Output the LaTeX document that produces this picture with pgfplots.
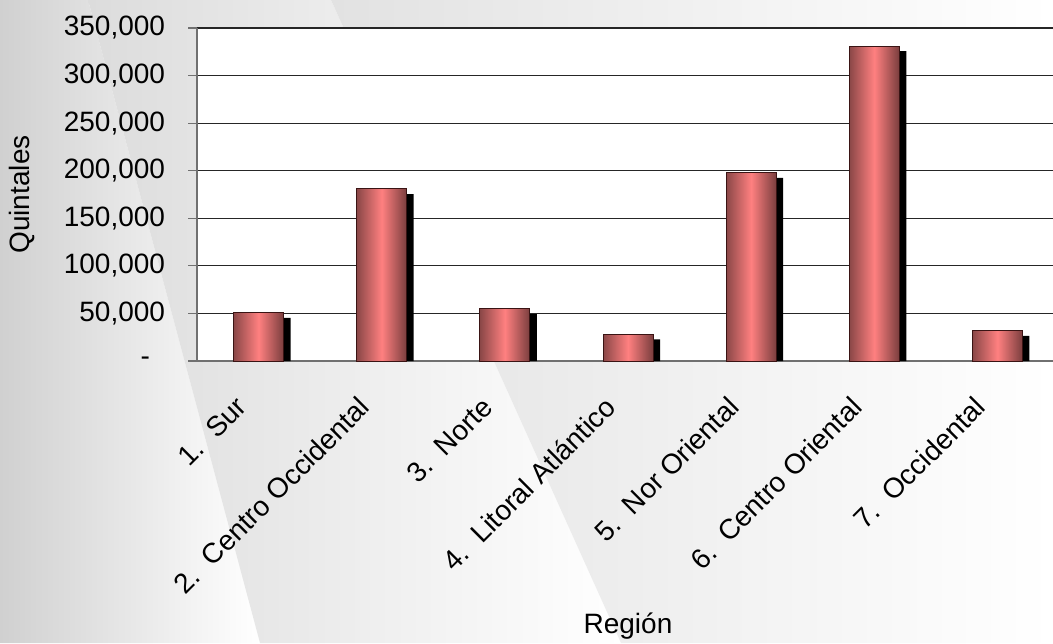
\documentclass[border=0pt]{standalone}
\usepackage{fontspec}
\setmainfont{Liberation Sans}
\usepackage{pgfplots}
\pgfplotsset{compat=1.18}
\definecolor{barL}{HTML}{8A4747}
\definecolor{barM}{HTML}{FF8080}
\definecolor{barR}{HTML}{7A3E3E}
\definecolor{barEdge}{HTML}{3A1414}
\definecolor{bgA}{HTML}{D0D0D0}
\definecolor{bgB}{HTML}{DCDCDC}
\definecolor{bgC}{HTML}{E2E2E2}
\definecolor{axisGray}{HTML}{707070}
\pgfplotstableread{
x val shadow
0 50600 45300
1 180800 175500
2 54700 49400
3 28100 22800
4 197900 192600
5 331000 325700
6 31800 26500
}\regiondata
\begin{document}
\begin{tikzpicture}
\path[use as bounding box] (0,0) rectangle (789.75pt,482.25pt);
\clip (0,0) rectangle (789.75pt,482.25pt);
\shade[left color=bgA, right color=white] (0,482.25pt) -- (66pt,482.25pt) -- (195pt,0) -- (0,0) -- cycle;
\shade[left color=bgB, right color=white] (66pt,482.25pt) -- (248.25pt,482.25pt) -- (465.75pt,0) -- (195pt,0) -- cycle;
\shade[left color=bgC, right color=white] (248.25pt,482.25pt) -- (789.75pt,482.25pt) -- (789.75pt,0) -- (465.75pt,0) -- cycle;
\begin{axis}[
  at={(147.75pt,211.5pt)}, anchor=south west,
  scale only axis, width=646.5pt, height=249.75pt,
  xmin=-0.5, xmax=6.5, ymin=0, ymax=350000,
  enlargelimits=false, clip=true,
  axis background/.style={fill=white},
  axis x line*=bottom, axis y line*=left,
  axis line style={-, draw=axisGray, line width=0.8pt},
  ymajorgrids, grid style={draw=black!85, line width=0.8pt},
  ytick={0,50000,100000,150000,200000,250000,300000,350000},
  yticklabels={{-\kern11.25pt\mbox{}},{50,000},{100,000},{150,000},{200,000},{250,000},{300,000},{350,000}},
  scaled y ticks=false,
  xtick={0,1,2,3,4,5,6},
  xticklabels={{1.\ \ Sur},{2.\ \ Centro Occidental},{3.\ \ Norte},{4.\ \ Litoral Atlántico},{5.\ \ Nor Oriental},{6.\ \ Centro Oriental},{7.\ \ Occidental}},
  minor xtick={-0.5,0.5,1.5,2.5,3.5,4.5,5.5},
  tick align=outside,
  major tick length=6.75pt, minor tick length=5.8pt,
  xtick style={draw=none},
  minor tick style={draw=axisGray, line width=0.8pt},
  ytick style={draw=axisGray, line width=0.8pt},
  tick label style={font=\fontsize{21}{25}\selectfont},
  yticklabel style={anchor=east, inner sep=0pt, xshift=-17pt},
  xticklabel style={inner sep=0pt, xshift=-13pt, yshift=-24pt, rotate=45, anchor=east},
  every axis y label/.style={at={(axis description cs:-0.203,0.5)}, anchor=center, rotate=90, font=\fontsize{21}{25}\selectfont},
  every axis x label/.style={at={(axis description cs:0.5,-0.796)}, anchor=center, font=\fontsize{21}{25}\selectfont},
  ylabel={Quintales},
  xlabel={Región},
]
\addplot[ybar, bar width=37.5pt, bar shift=5.25pt, fill=black, draw=none] table[x=x, y=shadow] {\regiondata};
\pgfplotsinvokeforeach{0,1,2,3,4,5,6}{
\addplot[ybar, bar width=37.5pt, bar shift=0pt, draw=barEdge, line width=0.75pt, left color=barL, right color=barR, middle color=barM, restrict x to domain=#1:#1] table[x=x, y=val] {\regiondata};
}
\end{axis}
\end{tikzpicture}
\end{document}
